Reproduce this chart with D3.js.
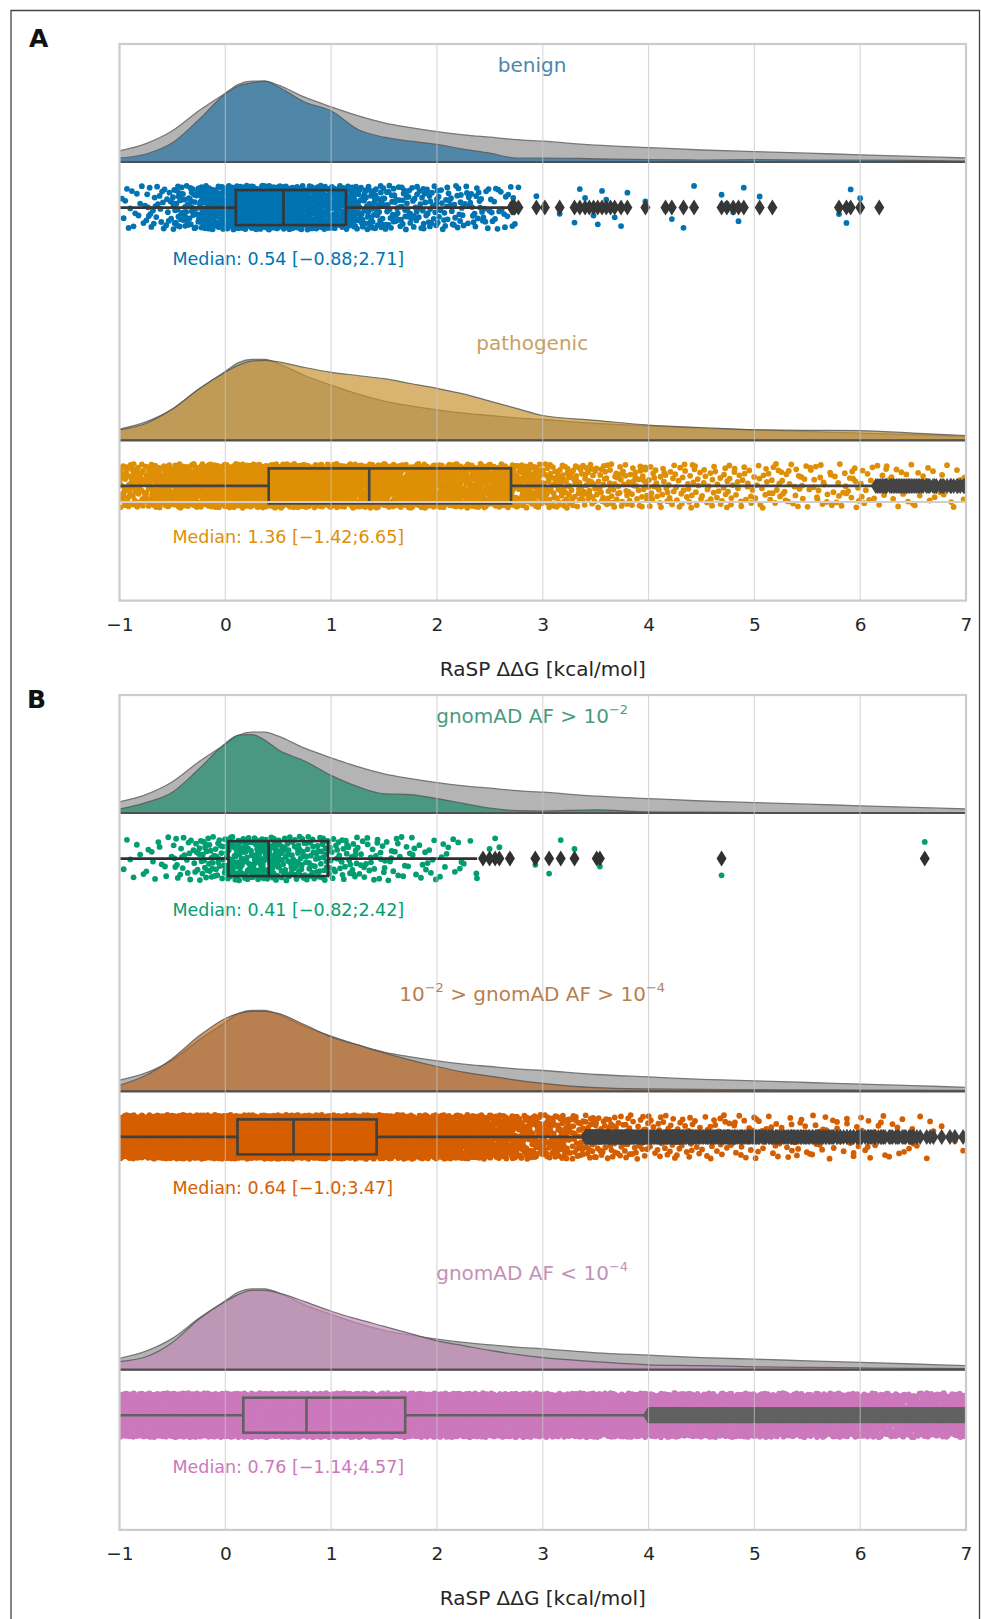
<!DOCTYPE html>
<html>
<head>
<meta charset="utf-8">
<script src="https://cdnjs.cloudflare.com/ajax/libs/d3/7.8.5/d3.min.js"></script>
<style>
  body { margin: 0; background: #fff; }
  text { font-family: "DejaVu Sans", sans-serif; }
</style>
</head>
<body>
<div id="chart"></div>
<script>
// ==== Data ====

// x positions (kcal/mol) where the density curves were read
const gridX = [-1,-0.75,-0.5,-0.25,0,0.125,0.25,0.375,0.5,0.75,1,1.25,1.5,1.75,2,2.25,2.5,2.75,3,3.5,4,4.5,5,5.5,6,6.5,7];

// grey reference density (all variants), relative to the peak
const densAll     = [0.14,0.23,0.39,0.64,0.86,0.97,1.01,1.01,0.96,0.81,0.69,0.58,0.49,0.43,0.38,0.34,0.31,0.28,0.26,0.21,0.18,0.15,0.13,0.11,0.09,0.07,0.05];
const densBenign  = [0.05,0.10,0.24,0.53,0.85,0.95,0.99,1.01,0.94,0.75,0.64,0.41,0.31,0.26,0.22,0.16,0.11,0.05,0.05,0.04,0.03,0.025,0.03,0.025,0.025,0.02,0.01];
const densPatho   = [0.13,0.21,0.39,0.64,0.85,0.94,0.99,1.00,0.98,0.91,0.85,0.81,0.77,0.71,0.65,0.58,0.49,0.40,0.31,0.25,0.19,0.16,0.13,0.125,0.12,0.09,0.06];
const densCommon  = [0.05,0.13,0.26,0.55,0.87,0.975,0.98,0.91,0.79,0.65,0.47,0.33,0.24,0.23,0.18,0.12,0.06,0.03,0.025,0.04,0.013,0.01,0.006,0.005,0.005,0.005,0.004];
const densMid     = [0.075,0.20,0.41,0.69,0.91,0.975,1.00,1.00,0.975,0.83,0.68,0.58,0.48,0.39,0.31,0.24,0.19,0.14,0.10,0.046,0.03,0.025,0.02,0.019,0.016,0.014,0.0125];
const densRare    = [0.10,0.16,0.34,0.63,0.85,0.94,0.99,0.99,0.96,0.85,0.73,0.63,0.54,0.45,0.36,0.30,0.24,0.19,0.15,0.10,0.06,0.05,0.034,0.028,0.021,0.016,0.0125];

// strip plot: number of variants per 0.25 kcal/mol bin
const binEdges = [-1,-0.75,-0.5,-0.25,0,0.25,0.5,0.75,1,1.25,1.5,1.75,2,2.25,2.5,2.75,3,3.25,3.5,3.75,4,4.25,4.5,4.75,5,5.25,5.5,5.75,6,6.25,6.5,6.75,7];
const cntBenign = [15,28,58,100,145,155,145,120,95,60,50,42,35,30,22,0,0,0,0,0,0,0,0,0,0,0,0,0,0,0,0,0];
const cntPatho  = [65,80,105,125,140,145,145,140,135,132,128,124,118,108,98,82,58,48,42,37,33,29,26,25,23,22,21,20,18,16,12,12];
const cntCommon = [7,12,24,44,66,70,56,46,34,24,19,15,11,6,0,0,0,0,0,0,0,0,0,0,0,0,0,0,0,0,0,0];
const cntMid    = [170,200,220,240,260,260,250,240,230,220,200,190,170,150,120,90,70,55,42,35,28,25,22,20,18,17,16,15,14,12,6,4];
const cntRare   = [220,240,260,280,300,300,300,290,280,270,260,250,240,230,220,210,200,200,190,190,180,180,170,170,160,160,150,150,140,140,140,140];

// single far-tail variants, read one by one
const tailBenign = [2.77,2.94,3.02,3.16,3.30,3.35,3.40,3.44,3.48,3.52,3.56,3.60,3.64,3.68,3.74,3.80,3.97,4.16,4.22,4.33,4.43,4.69,4.74,4.80,4.85,4.90,5.05,5.17,5.80,5.87,5.91,6.00,6.18];
const tailCommon = [2.55,2.59,2.69,2.93,3.06,3.17,3.30,3.51,3.54,4.69,6.61];

// box plot quartiles
const boxQ1  = [0.10, 0.41, 0.03, 0.115, 0.17];
const boxMed = [0.55, 1.36, 0.41, 0.645, 0.767];
const boxQ3  = [1.14, 2.70, 0.97, 1.43, 1.70];

const groupNames = ["benign", "pathogenic", "common", "mid", "rare"];
const medianTexts = [
  "Median: 0.54 [\u22120.88;2.71]",
  "Median: 1.36 [\u22121.42;6.65]",
  "Median: 0.41 [\u22120.82;2.42]",
  "Median: 0.64 [\u22121.0;3.47]",
  "Median: 0.76 [\u22121.14;4.57]"
];
// label pieces: [text, superscript?]
const groupLabels = [
  [["benign", false]],
  [["pathogenic", false]],
  [["gnomAD AF > 10", false], ["\u22122", true]],
  [["10", false], ["\u22122", true], [" > gnomAD AF > 10", false], ["\u22124", true]],
  [["gnomAD AF < 10", false], ["\u22124", true]]
];
const xTicks = [-1, 0, 1, 2, 3, 4, 5, 6, 7];

// colours
const pointColors = ["#0173B2", "#DE8F05", "#029E73", "#D55E00", "#CC78BC"];
const cloudColors = ["#1f72a2", "#c58f2a", "#168a69", "#bb661f", "#c487b7"];
const labelColors = ["#4f87a8", "#c8a162", "#4a9a80", "#b9804f", "#c391b8"];
const boxGrays    = ["#363636", "#444444", "#303030", "#404040", "#616161"];

const densities = [densBenign, densPatho, densCommon, densMid, densRare];
const counts    = [cntBenign, cntPatho, cntCommon, cntMid, cntRare];
const tails     = [tailBenign, [], tailCommon, [], []];

// ==== Setup ====
const width = 981, height = 1619;
const svg = d3.select("#chart").append("svg")
  .attr("width", width)
  .attr("height", height);

const x = d3.scaleLinear().domain([-1, 7]).range([119.5, 966]);
const groupH = 278.3;

const panels = [
  { letter: "A", top: 44,  groups: [0, 1], lx: 29, ly: 46.5 },
  { letter: "B", top: 695, groups: [2, 3, 4], lx: 27, ly: 708 }
];

// outer frame
svg.append("path")
  .attr("d", "M11,1630 V10.5 H979.5 V1630")
  .attr("fill", "none")
  .attr("stroke", "#444")
  .attr("stroke-width", 1.3);

// Halton sequence: even, deterministic spread of the points inside a bin
function halton(i, base) {
  let f = 1, r = 0;
  while (i > 0) { f /= base; r += f * (i % base); i = Math.floor(i / base); }
  return r;
}
const diamond = "M0,-8 L5,0 L0,8 L-5,0 Z";

panels.forEach((p, pi) => {
  const bottom = p.top + p.groups.length * groupH;
  const y = d3.scaleBand()
    .domain(p.groups.map(i => groupNames[i]))
    .range([p.top, bottom]);

  svg.append("clipPath").attr("id", "clip" + pi)
    .append("rect")
    .attr("x", x(-1)).attr("y", p.top)
    .attr("width", x(7) - x(-1)).attr("height", bottom - p.top);

  const g = svg.append("g").attr("clip-path", `url(#clip${pi})`);

  p.groups.forEach(gi => {
    const T = y(groupNames[gi]);
    const base = T + 118;
    const yd = d3.scaleLinear().domain([0, 1]).range([base, base - 80]);
    const stripY = T + 163.6;
    const yj = d3.scaleLinear().domain([-1, 1]).range([stripY - 22, stripY + 22]);

    const area = d3.area()
      .x((d, i) => x(gridX[i]))
      .y0(base)
      .y1(d => yd(d))
      .curve(d3.curveMonotoneX);

    // clouds
    g.append("path").datum(densAll)
      .attr("d", area)
      .attr("fill", "#b4b4b4")
      .attr("stroke", "#777")
      .attr("stroke-width", 1.3);
    g.append("path").datum(densities[gi])
      .attr("d", area)
      .attr("fill", cloudColors[gi])
      .attr("fill-opacity", 0.67)
      .attr("stroke", "#555")
      .attr("stroke-opacity", 0.8)
      .attr("stroke-width", 1.2);
    g.append("line")
      .attr("x1", x(-1)).attr("x2", x(7))
      .attr("y1", base).attr("y2", base)
      .attr("stroke", "#505050").attr("stroke-width", 2.2);

    // rain: each bin's variants spread over the bin
    const pts = [];
    let m = 17;
    counts[gi].forEach((n, b) => {
      const lo = binEdges[b], hi = binEdges[b + 1];
      for (let k = 0; k < n; k++, m++) {
        pts.push({ v: lo + (hi - lo) * halton(m, 2), j: halton(m, 3) * 2 - 1 });
      }
    });
    tails[gi].forEach((v, k) => {
      pts.push({ v: v, j: halton(k + 5, 5) * 2 - 1 });
    });

    g.append("g").selectAll("circle").data(pts).join("circle")
      .attr("cx", d => x(d.v))
      .attr("cy", d => yj(d.j))
      .attr("r", 2.9)
      .attr("fill", pointColors[gi]);

    // box
    const q1 = boxQ1[gi], q3 = boxQ3[gi], iqr = q3 - q1;
    const wLo = q1 - 1.5 * iqr, wHi = q3 + 1.5 * iqr;
    const gray = boxGrays[gi];
    const bx = g.append("g")
      .attr("stroke", gray).attr("stroke-width", 2.6).attr("fill", "none");
    bx.append("line")
      .attr("x1", x(wLo)).attr("x2", x(q1))
      .attr("y1", stripY).attr("y2", stripY);
    bx.append("line")
      .attr("x1", x(q3)).attr("x2", x(Math.min(wHi, d3.max(pts, d => d.v))))
      .attr("y1", stripY).attr("y2", stripY);
    bx.append("rect")
      .attr("x", x(q1)).attr("y", stripY - 17.5)
      .attr("width", x(q3) - x(q1)).attr("height", 35);
    bx.append("line")
      .attr("x1", x(boxMed[gi])).attr("x2", x(boxMed[gi]))
      .attr("y1", stripY - 17.5).attr("y2", stripY + 17.5);

    // outliers
    g.append("g").selectAll("path").data(pts.filter(d => d.v > wHi)).join("path")
      .attr("d", diamond)
      .attr("transform", d => `translate(${x(d.v)},${stripY})`)
      .attr("fill", gray);

    // texts
    const lab = svg.append("text")
      .attr("x", x(2.9)).attr("y", T + 28)
      .attr("text-anchor", "middle")
      .attr("font-size", 20)
      .attr("fill", labelColors[gi]);
    groupLabels[gi].forEach((part, k, arr) => {
      const ts = lab.append("tspan").text(part[0]);
      if (part[1]) ts.attr("font-size", 13).attr("dy", -9);
      else if (k > 0 && arr[k - 1][1]) ts.attr("dy", 9);
    });

    svg.append("text")
      .attr("x", x(-0.5)).attr("y", T + 221)
      .attr("font-size", 17.5)
      .attr("fill", pointColors[gi])
      .text(medianTexts[gi]);
  });

  // light pathogenic category gridline
  if (pi === 0) {
    g.append("line")
      .attr("x1", x(-1)).attr("x2", x(7))
      .attr("y1", 502).attr("y2", 502)
      .attr("stroke", "#cfcfcf").attr("stroke-width", 2);
  }

  // vertical grid over everything
  g.append("g").selectAll("line").data(xTicks).join("line")
    .attr("x1", d => x(d)).attr("x2", d => x(d))
    .attr("y1", p.top).attr("y2", bottom)
    .attr("stroke", "#c4c4c4")
    .attr("stroke-opacity", 0.65)
    .attr("stroke-width", 1.2);

  // spines
  svg.append("rect")
    .attr("x", x(-1)).attr("y", p.top)
    .attr("width", x(7) - x(-1)).attr("height", bottom - p.top)
    .attr("fill", "none")
    .attr("stroke", "#cccccc")
    .attr("stroke-width", 2.2);

  // x axis
  const ax = svg.append("g")
    .attr("transform", `translate(0,${bottom})`)
    .call(d3.axisBottom(x)
      .tickValues(xTicks)
      .tickSize(0)
      .tickPadding(17)
      .tickFormat(d => d < 0 ? "\u2212" + Math.abs(d) : String(d)));
  ax.select(".domain").remove();
  ax.selectAll("text")
    .attr("font-size", 18.5)
    .attr("font-family", "DejaVu Sans")
    .attr("fill", "#262626");

  svg.append("text")
    .attr("x", (x(-1) + x(7)) / 2).attr("y", bottom + 75)
    .attr("text-anchor", "middle")
    .attr("font-size", 20)
    .attr("fill", "#262626")
    .text("RaSP \u0394\u0394G [kcal/mol]");

  svg.append("text")
    .attr("x", p.lx).attr("y", p.ly)
    .attr("font-family", "Liberation Sans, Arial, sans-serif")
    .attr("font-weight", "bold")
    .attr("font-size", 25)
    .attr("fill", "#111")
    .text(p.letter);
});
</script>
</body>
</html>
